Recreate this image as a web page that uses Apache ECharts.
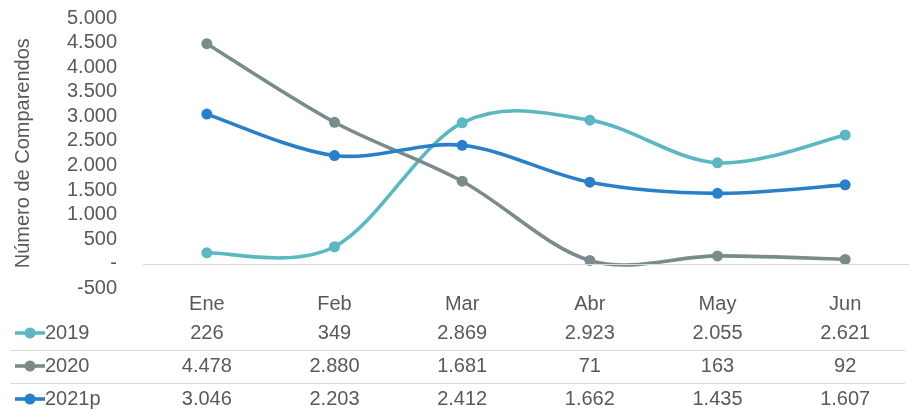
<!DOCTYPE html>
<html><head><meta charset="utf-8">
<script src="https://cdn.jsdelivr.net/npm/echarts@6/dist/echarts.min.js"></script>
<style>html,body{margin:0;padding:0;background:#fff}#c{width:909px;height:410px}</style>
</head><body><div id="c"></div>
<script>
const categories = ['Ene','Feb','Mar','Abr','May','Jun'];
const seriesNames = ['2019','2020','2021p'];
const s2019 = [226, 349, 2869, 2923, 2055, 2621];
const s2020 = [4478, 2880, 1681, 71, 163, 92];
const s2021p = [3046, 2203, 2412, 1662, 1435, 1607];
const yTicks = {min: -500, max: 5000, interval: 500};
const colors = ['#5bb8c3', '#7a8b8b', '#2a80c8'];
const allSeries = [s2019, s2020, s2021p];

const FONT = '"Liberation Sans", Arial, sans-serif';
const FS = 20;
const TXT = '#595959';
function fmt(n){
  if (n === 0) return '-';
  const neg = n < 0; const s = String(Math.abs(n)).replace(/\B(?=(\d{3})+(?!\d))/g, '.');
  return (neg ? '-' : '') + s;
}
const chart = echarts.init(document.getElementById('c'), null, {renderer:'canvas'});

// Excel-style (Catmull-Rom) smoothed curve, one bezier segment per data item
function curveSeries(d, idx) {
  return {
    name: seriesNames[idx] + '_curve', type: 'custom', z: 2 + idx, silent: true,
    data: d.map((v, i) => [i, v]),
    renderItem: function (params, api) {
      const i = params.dataIndex;
      if (i >= d.length - 1) return null;
      const p = k => api.coord([Math.max(0, Math.min(d.length - 1, k)), d[Math.max(0, Math.min(d.length - 1, k))]]);
      const p0 = p(i - 1), p1 = p(i), p2 = p(i + 1), p3 = p(i + 2);
      const t = 1 / 6;
      return {
        type: 'bezierCurve',
        shape: {
          x1: p1[0], y1: p1[1], x2: p2[0], y2: p2[1],
          cpx1: p1[0] + (p2[0] - p0[0]) * t, cpy1: p1[1] + (p2[1] - p0[1]) * t,
          cpx2: p2[0] - (p3[0] - p1[0]) * t, cpy2: p2[1] - (p3[1] - p1[1]) * t
        },
        style: {stroke: colors[idx], lineWidth: 3.6, fill: null, lineCap: 'round'}
      };
    }
  };
}
const series = [];
allSeries.forEach((d, i) => {
  series.push(curveSeries(d, i));
  series.push({
    name: seriesNames[i], type: 'line', data: d,
    symbol: 'circle', symbolSize: 11, z: 2 + i,
    lineStyle: {opacity: 0, width: 0},
    itemStyle: {color: colors[i]},
    markLine: i === 0 ? {silent: true, symbol: 'none', label: {show: false},
      lineStyle: {color: '#d9d9d9', width: 1.2, type: 'solid'}, data: [{yAxis: 0}], animation: false} : undefined
  });
});
chart.setOption({
  animation: false,
  textStyle: {fontFamily: FONT},
  grid: {left: 143, right: -6, top: 18, bottom: 121.5},
  xAxis: {type: 'category', data: categories, boundaryGap: true,
    axisLine: {show: false}, axisTick: {show: false},
    axisLabel: {color: TXT, fontSize: FS, margin: 6, fontFamily: FONT}},
  yAxis: {type: 'value', min: yTicks.min, max: yTicks.max, interval: yTicks.interval,
    name: 'Número de Comparendos', nameLocation: 'middle', nameGap: 110,
    nameTextStyle: {color: TXT, fontSize: FS, fontFamily: FONT},
    splitLine: {show: false}, axisLine: {show: false}, axisTick: {show: false},
    axisLabel: {color: TXT, fontSize: FS, margin: 26, fontFamily: FONT, formatter: v => fmt(v)}},
  series: series
});
const rowY = [333, 366, 399];
const g = [];
allSeries.forEach((d, r) => {
  g.push({type: 'line', shape: {x1: 15, y1: rowY[r], x2: 45, y2: rowY[r]}, style: {stroke: colors[r], lineWidth: 3.6}});
  g.push({type: 'circle', shape: {cx: 30, cy: rowY[r], r: 5.5}, style: {fill: colors[r]}});
  g.push({type: 'text', x: 45, y: rowY[r], style: {text: seriesNames[r], fill: TXT, font: FS + 'px ' + FONT, textVerticalAlign: 'middle', verticalAlign: 'middle'}});
  d.forEach((v, i) => {
    const x = chart.convertToPixel({xAxisIndex: 0}, i);
    g.push({type: 'text', x: x, y: rowY[r], style: {text: fmt(v), fill: TXT, font: FS + 'px ' + FONT, align: 'center', textAlign: 'center', verticalAlign: 'middle', textVerticalAlign: 'middle'}});
  });
});
[350.5, 383.5].forEach(y => g.push({type: 'line', shape: {x1: 10, y1: y, x2: 905, y2: y}, style: {stroke: '#d9d9d9', lineWidth: 1.2}}));
chart.setOption({graphic: g});
</script></body></html>
